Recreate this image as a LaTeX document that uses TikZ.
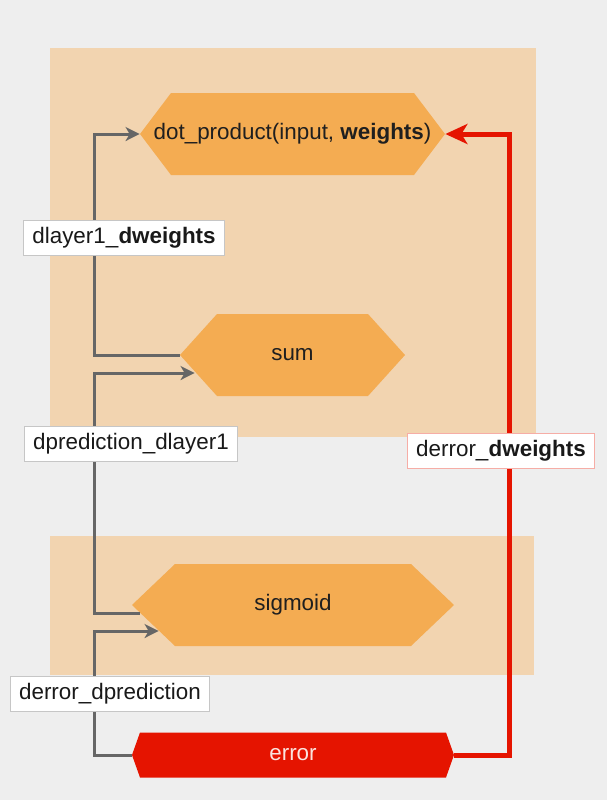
\documentclass[tikz,border=0pt]{standalone}
\usepackage{fontspec}
\setmainfont{Liberation Sans}
\usetikzlibrary{arrows.meta}
\definecolor{canvas}{HTML}{EEEEEE}
\definecolor{peach}{HTML}{F2D4B0}
\definecolor{hexorange}{HTML}{F4AC52}
\definecolor{errred}{HTML}{E51400}
\definecolor{linkgray}{HTML}{666666}
\definecolor{errtext}{HTML}{FBE3DE}

% hexagon: name, x, y, half width, half height, inset, colour, text
\newcommand{\hexnode}[8]{%
  \fill[#7] (#2-#4,#3) -- (#2-#4+#6,#3-#5) -- (#2+#4-#6,#3-#5) -- (#2+#4,#3)
    -- (#2+#4-#6,#3+#5) -- (#2-#4+#6,#3+#5) -- cycle;
  \node[hexa, minimum width=#4pt, minimum height=#5pt] (#1) at (#2,#3) {#8};
}

\begin{document}
\begin{tikzpicture}[x=0.5pt, y=-0.5pt, font=\fontsize{11.2}{13}\selectfont,
    hexa/.style={inner sep=0pt, text=black!88},
    link/.style={linkgray, line width=1.5pt, -{Stealth[length=7pt, width=7pt, inset=2pt]}},
    alarm/.style={errred, line width=2.5pt, -{Stealth[length=11pt, width=10pt, inset=3pt]}},
    tag/.style={draw=gray!45, fill=white, inner xsep=4.3pt, inner ysep=0pt, minimum height=17.5pt, text=black!90},
    errtag/.style={tag, draw=errred!35}]
    \useasboundingbox[fill=canvas] (0,0) rectangle (607,800);
    \fill[peach] (50,48) rectangle (536,437);
    \fill[peach] (50,536) rectangle (534,675);

    \hexnode{dot}{292.5}{134}{152.5}{41}{31}{hexorange}{dot\_product(input, \textbf{weights})}
    \hexnode{sum}{292.5}{355}{112.5}{41}{37}{hexorange}{sum}
    \hexnode{sig}{293}{605}{161}{41}{43}{hexorange}{sigmoid}
    \hexnode{err}{293}{755}{161}{22.5}{8}{errred}{\textcolor{errtext}{error}}

    \draw[link] (sum.west) -- ++(-85,0) |- (dot.west);
    \draw[link] ([shift={(8,8)}]sig.west) -- ++(-45,0) |- ([shift={(15,18)}]sum.west);
    \draw[link] (err.west) -- ++(-37,0) |- ([shift={(27,26)}]sig.west);
    \draw[alarm] (err.east) -- ++(55,0) |- (dot.east);

    \node[tag] (l1) at (124,237.5) {dlayer1\_\textbf{dweights}};
    \node[tag] (l2) at (131,444) {dprediction\_dlayer1};
    \node[tag] (l3) at (110,693.5) {derror\_dprediction};
    \node[errtag] (l4) at (501,451) {derror\_\textbf{dweights}};
\end{tikzpicture}
\end{document}
